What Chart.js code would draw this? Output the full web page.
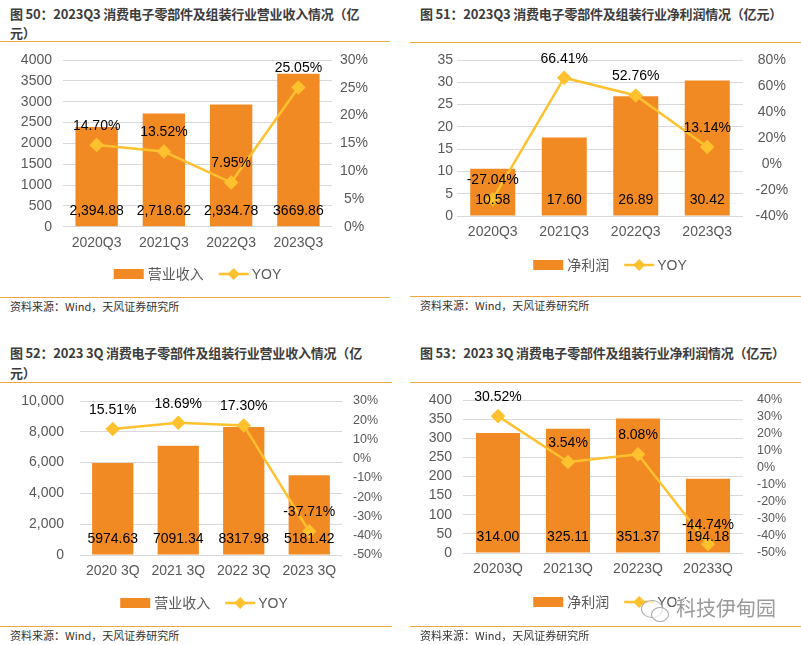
<!DOCTYPE html>
<html>
<head>
<meta charset="utf-8">
<script src="https://cdn.jsdelivr.net/npm/chart.js@4"></script>
<style>
  body { margin: 0; background: #fff; width: 801px; height: 645px; position: relative; overflow: hidden; }
  .t { position: absolute; font-family: "Noto Sans CJK SC", sans-serif; font-weight: bold; font-size: 13px; letter-spacing: -0.2px; color: #3c3c3c; line-height: 19px; white-space: nowrap; }
  .rule { position: absolute; height: 0; border-top: 1.5px solid #EBA845; }
  .src { position: absolute; font-family: "Noto Sans CJK SC", sans-serif; font-size: 11px; line-height: 14px; color: #333; white-space: nowrap; }
  .box { position: absolute; }
  .wm { position: absolute; left: 676px; top: 596px; font-family: "Noto Sans CJK SC", sans-serif; font-size: 20px; line-height: 24px; color: #9a9a9a;
        text-shadow: -1px 0 #fff, 1px 0 #fff, 0 -1px #fff, 0 1px #fff; white-space: nowrap; }
  .bub { position: absolute; border: 1.3px solid #a8a8a8; border-radius: 50%; background: rgba(255,255,255,0.7); }
</style>
</head>
<body>

<div class="t" style="left:10px;top:4px">图 50：2023Q3 消费电子零部件及组装行业营业收入情况（亿<br>元）</div>
<div class="rule" style="left:0;top:41px;width:390px"></div>
<div class="box" style="left:0;top:46px;width:390px;height:250px"><canvas id="c1"></canvas></div>
<div class="rule" style="left:0;top:297px;width:390px"></div>
<div class="src" style="left:10px;top:299px">资料来源：Wind，天风证券研究所</div>

<div class="t" style="left:420px;top:4px">图 51：2023Q3 消费电子零部件及组装行业净利润情况（亿元）</div>
<div class="rule" style="left:410px;top:42px;width:391px"></div>
<div class="box" style="left:410px;top:46px;width:391px;height:248px"><canvas id="c2"></canvas></div>
<div class="rule" style="left:410px;top:296px;width:391px"></div>
<div class="src" style="left:420px;top:298px">资料来源：Wind，天风证券研究所</div>

<div class="t" style="left:10px;top:343px;line-height:20px">图 52：2023 3Q 消费电子零部件及组装行业营业收入情况（亿<br>元）</div>
<div class="rule" style="left:0;top:382px;width:392px"></div>
<div class="box" style="left:0;top:386px;width:390px;height:238px"><canvas id="c3"></canvas></div>
<div class="rule" style="left:0;top:626px;width:392px"></div>
<div class="src" style="left:10px;top:628px">资料来源：Wind，天风证券研究所</div>

<div class="t" style="left:420px;top:343px">图 53：2023 3Q 消费电子零部件及组装行业净利润情况（亿元）</div>
<div class="rule" style="left:410px;top:382px;width:391px"></div>
<div class="box" style="left:410px;top:386px;width:391px;height:238px"><canvas id="c4"></canvas></div>
<div class="rule" style="left:410px;top:626px;width:391px"></div>
<div class="src" style="left:420px;top:628px">资料来源：Wind，天风证券研究所</div>

<div class="bub" style="left:641px;top:600px;width:20px;height:16px"></div>
<div class="bub" style="left:651px;top:607px;width:16px;height:13px"></div>
<div class="wm">科技伊甸园</div>

<script>
// 图50 营业收入 (亿元) 与同比
const cat1 = ['2020Q3', '2021Q3', '2022Q3', '2023Q3'];
const rev1 = [2394.88, 2718.62, 2934.78, 3669.86];
const revText1 = ['2,394.88', '2,718.62', '2,934.78', '3669.86'];
const yoy1 = [14.70, 13.52, 7.95, 25.05];

// 图51 净利润 (亿元) 与同比
const cat2 = ['2020Q3', '2021Q3', '2022Q3', '2023Q3'];
const np2 = [10.58, 17.60, 26.89, 30.42];
const yoy2 = [-27.04, 66.41, 52.76, 13.14];

// 图52
const cat3 = ['2020 3Q', '2021 3Q', '2022 3Q', '2023 3Q'];
const rev3 = [5974.63, 7091.34, 8317.98, 5181.42];
const yoy3 = [15.51, 18.69, 17.30, -37.71];

// 图53
const cat4 = ['20203Q', '20213Q', '20223Q', '20233Q'];
const np4 = [314.00, 325.11, 351.37, 194.18];
const yoy4 = [30.52, 3.54, 8.08, -44.74];

const BAR = '#F28A24';
const LINE = '#FFC12E';
const TICK = '#595959';
const LATIN = '"Liberation Sans", Arial, sans-serif';
const CJK = '"Noto Sans CJK SC", sans-serif';

Chart.defaults.font.family = LATIN;
Chart.defaults.animation = false;

// Werte auf die Balken (unten) und über die Punkte schreiben
const valueLabels = {
  id: 'valueLabels',
  afterDatasetsDraw(chart, args, opts) {
    const ctx = chart.ctx;
    ctx.save();
    ctx.font = '14px ' + LATIN;
    ctx.fillStyle = '#000';
    ctx.textAlign = 'center';
    ctx.textBaseline = 'middle';
    chart.getDatasetMeta(0).data.forEach((bar, i) => {
      ctx.fillText(opts.barText[i], bar.x, bar.base - 15);
    });
    chart.getDatasetMeta(1).data.forEach((pt, i) => {
      ctx.fillText(opts.lineText[i], pt.x, pt.y - 19);
    });
    ctx.restore();
  }
};

// Legende: Kästchen für Balken, Linie mit Raute für YOY
const legendRow = {
  id: 'legendRow',
  afterDraw(chart, args, opts) {
    const ctx = chart.ctx;
    const barName = chart.data.datasets[0].label;
    const lineName = chart.data.datasets[1].label;
    ctx.save();
    ctx.font = '14px ' + CJK;
    const w1 = ctx.measureText(barName).width;
    ctx.font = '14px ' + LATIN;
    const w2 = ctx.measureText(lineName).width;
    const total = 30 + 4 + w1 + 15 + 30 + 3 + w2;
    let x = opts.x - total / 2;
    const y = opts.y;
    ctx.fillStyle = BAR;
    ctx.fillRect(x, y - 5, 30, 10);
    x += 34;
    ctx.fillStyle = TICK;
    ctx.textAlign = 'left';
    ctx.textBaseline = 'middle';
    ctx.font = '14px ' + CJK;
    ctx.fillText(barName, x, y);
    x += w1 + 15;
    ctx.strokeStyle = LINE;
    ctx.lineWidth = 2.5;
    ctx.beginPath();
    ctx.moveTo(x, y);
    ctx.lineTo(x + 30, y);
    ctx.stroke();
    ctx.fillStyle = LINE;
    ctx.beginPath();
    ctx.moveTo(x + 15, y - 6);
    ctx.lineTo(x + 21, y);
    ctx.lineTo(x + 15, y + 6);
    ctx.lineTo(x + 9, y);
    ctx.closePath();
    ctx.fill();
    x += 33;
    ctx.fillStyle = TICK;
    ctx.font = '14px ' + LATIN;
    ctx.fillText(lineName, x, y + 1);
    ctx.restore();
  }
};

function makeChart(id, p) {
  return new Chart(document.getElementById(id), {
    type: 'bar',
    data: {
      labels: p.labels,
      datasets: [
        { type: 'bar', label: p.barName, data: p.bars, backgroundColor: BAR,
          categoryPercentage: 1, barPercentage: 0.63, yAxisID: 'y', order: 1 },
        { type: 'line', label: 'YOY', data: p.yoy, borderColor: LINE, backgroundColor: LINE,
          borderWidth: 2.5, pointStyle: 'rectRot', pointRadius: 5.5, pointHoverRadius: 5.5,
          tension: 0, yAxisID: 'y1', order: 0 }
      ]
    },
    options: {
      responsive: true,
      maintainAspectRatio: false,
      layout: { padding: { top: p.top, left: 0, right: 0, bottom: 0 } },
      scales: {
        x: {
          grid: { display: false, drawTicks: false },
          border: { display: false },
          ticks: { color: TICK, font: { size: 14 }, padding: 8 },
          afterFit(s) { s.height = p.xH; }
        },
        y: {
          position: 'left', min: p.left.min, max: p.left.max,
          grid: { color: '#D9D9D9', drawTicks: false },
          border: { display: false },
          ticks: { stepSize: p.left.step, autoSkip: false, color: TICK, font: { size: 14 }, padding: p.left.pad, callback: p.left.fmt },
          afterFit(s) { s.width = p.leftW; s.paddingTop = 0; s.paddingBottom = 0; }
        },
        y1: {
          position: 'right', min: p.right.min, max: p.right.max,
          grid: { display: false, drawTicks: false },
          border: { display: false },
          ticks: { stepSize: p.right.step, autoSkip: false, color: TICK, font: { size: p.right.size }, padding: p.right.pad,
                   crossAlign: p.right.align, callback: v => v + '%' },
          afterFit(s) { s.width = p.rightW; s.paddingTop = 0; s.paddingBottom = 0; }
        }
      },
      plugins: {
        legend: { display: false },
        tooltip: { enabled: false },
        valueLabels: { barText: p.barText, lineText: p.yoy.map(v => v.toFixed(2) + '%') },
        legendRow: { x: p.legendX, y: p.legendY }
      }
    },
    plugins: [valueLabels, legendRow]
  });
}

const plain = v => v;

makeChart('c1', {
  labels: cat1, bars: rev1, barText: revText1, yoy: yoy1, barName: '营业收入',
  left: { min: 0, max: 4000, step: 500, pad: 11, fmt: plain },
  right: { min: 0, max: 30, step: 5, pad: 8, size: 14, align: 'center' },
  leftW: 63, rightW: 58, top: 14, xH: 69.3, legendX: 197.5, legendY: 228
});

makeChart('c2', {
  labels: cat2, bars: np2, barText: np2.map(v => v.toFixed(2)), yoy: yoy2, barName: '净利润',
  left: { min: 0, max: 35, step: 5, pad: 4, fmt: plain },
  right: { min: -40, max: 80, step: 20, pad: 12.5, size: 14, align: 'center' },
  leftW: 47, rightW: 58, top: 14, xH: 78, legendX: 200, legendY: 219
});

makeChart('c3', {
  labels: cat3, bars: rev3, barText: rev3.map(v => v.toFixed(2)), yoy: yoy3, barName: '营业收入',
  left: { min: 0, max: 10000, step: 2000, pad: 16, fmt: v => v.toLocaleString('en-US') },
  right: { min: -50, max: 30, step: 10, pad: 11, size: 12.5, align: 'near' },
  leftW: 80, rightW: 48, top: 15, xH: 69, legendX: 204, legendY: 217
});

makeChart('c4', {
  labels: cat4, bars: np4, barText: np4.map(v => v.toFixed(2)), yoy: yoy4, barName: '净利润',
  left: { min: 0, max: 400, step: 50, pad: 11, fmt: plain },
  right: { min: -50, max: 40, step: 10, pad: 14, size: 12.5, align: 'near' },
  leftW: 53, rightW: 58, top: 14, xH: 71, legendX: 200, legendY: 216
});
</script>
</body>
</html>
